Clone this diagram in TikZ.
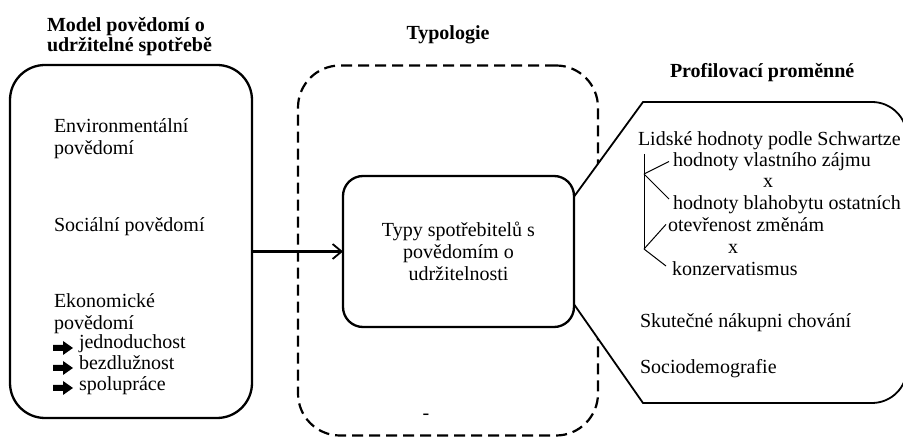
\documentclass[tikz,border=0pt]{standalone}
\usepackage{fontspec}
\setmainfont{Liberation Serif}
\usetikzlibrary{arrows.meta}
\begin{document}
\begin{tikzpicture}[x=1pt,y=-1pt,
  every node/.style={inner sep=0pt, outer sep=0pt, font=\fontsize{20}{22}\selectfont},
  ttl/.style={font=\fontsize{20}{20}\selectfont\bfseries, align=left},
  txt/.style={anchor=mid west},
  blk/.style={anchor=north west, align=left},
  solidbox/.style={draw, line width=2.3pt},
  dashbox/.style={draw, line width=2.2pt, dash pattern=on 11pt off 6pt},
  callout/.style={draw, line width=1.8pt, fill=white, line join=miter},
  thin/.style={line width=1pt},
  fatarrow/.pic={\fill (0,-3) -- (10,-3) -- (10,-7) -- (20,0) -- (10,7) -- (10,3) -- (0,3) -- cycle;}
]
\useasboundingbox (0,0) rectangle (903,438);

% titles
\node[ttl, anchor=north west] (tmodel) at (47,17) {Model povědomí o\\udržitelné spotřebě};
\node[ttl, anchor=mid] (ttyp) at (448,37) {Typologie};
\node[ttl, anchor=mid west] (tprof) at (670,75) {Profilovací proměnné};

% left box
\node[solidbox, rounded corners=35, minimum width=242pt, minimum height=353pt] (model) at (131,241.5) {};
% dashed typology box
\node[dashbox, rounded corners=42, minimum width=300pt, minimum height=370pt] (typol) at (448,250.5) {};

% callout of profile variables
\coordinate (cu) at (574.5,196);
\coordinate (cl) at (574.5,305);
\path[callout] (cu) -- (643,102) -- (872,102) .. controls (891.3,102) and (907,117.7) .. (907,137)
  -- (907,368) .. controls (907,387.3) and (891.3,403) .. (872,403) -- (643,403) -- (cl);

% middle box
\node[solidbox, fill=white, rounded corners=20, minimum width=231pt, minimum height=151pt, align=center] (typy) at (458.5,251.5)
  {Typy spotřebitelů s\\povědomím o\\udržitelnosti};

% connector
\draw[line width=2.3pt, -{Straight Barb[length=9pt, width=15pt, line width=1.8pt]}] (model.east |- typy.west) -- (typy.west);

% left box content
\node[blk] (env) at (54,119) {Environmentální\\povědomí};
\node[txt] (soc) at (54,229) {Sociální povědomí};
\node[blk] (eko) at (54,294) {Ekonomické\\povědomí};
\node[txt] (i1) at (79,346) {jednoduchost};
\node[txt] (i2) at (79,367) {bezdlužnost};
\node[txt] (i3) at (79,388) {spolupráce};
\pic at (53,348) {fatarrow};
\pic at (53,368) {fatarrow};
\pic at (53,388) {fatarrow};

% profile content
\node[txt] (lid) at (638,143) {Lidské hodnoty podle Schwartze};
\node[txt] (h1) at (673,164) {hodnoty vlastního zájmu};
\node[anchor=mid] (x1) at (768,185) {x};
\node[txt] (h2) at (673,207) {hodnoty blahobytu ostatních};
\node[txt] (o1) at (668,229) {otevřenost změnám};
\node[anchor=mid] (x2) at (733,251) {x};
\node[txt] (k1) at (672,273) {konzervatismus};
\node[txt] (sku) at (640,325) {Skutečné nákupni chování};
\node[txt] (soc2) at (640,371) {Sociodemografie};

% bracket
\coordinate (b0) at (644,154);
\coordinate (b1) at (644,174);
\coordinate (b2) at (644,249);
\draw[thin] (b0) -- (b2);
\draw[thin] (b1) -- (h1.west -| 669,0);
\draw[thin] (b1) -- (669,199);
\draw[thin] (b2) -- (o1.west -| 666,0);
\draw[thin] (b2) -- (666,266);

% stray mark
\node (dash) at (426,417) {-};
\end{tikzpicture}
\end{document}
